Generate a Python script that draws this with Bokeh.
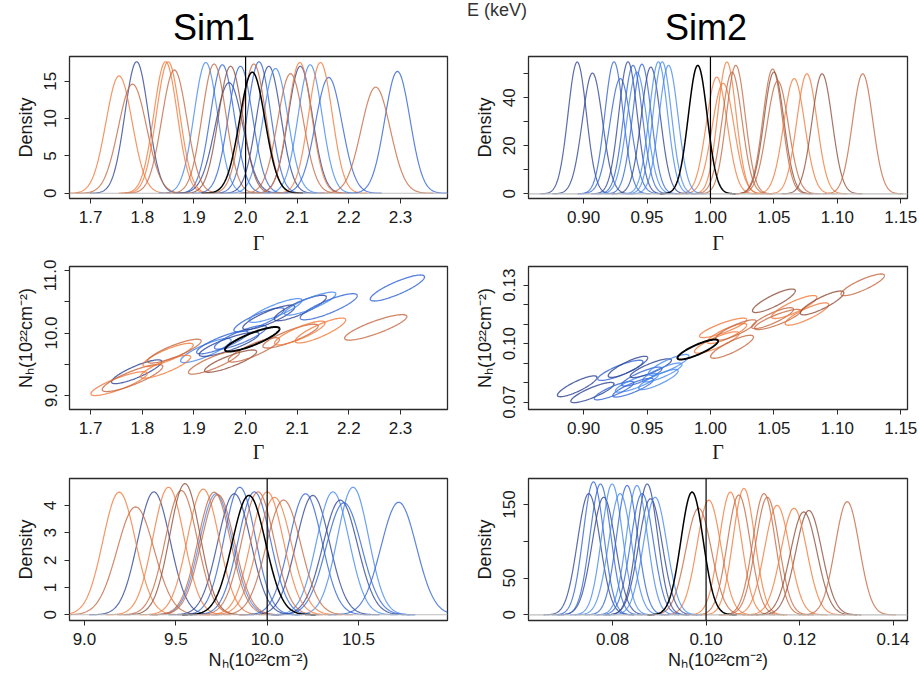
import numpy as np
from bokeh.plotting import figure
from bokeh.layouts import column, row
from bokeh.models import Span, Title, Div, FixedTicker, PrintfTickFormatter, Range1d, ColumnDataSource
from bokeh.embed import file_html
from bokeh.resources import INLINE

# ---------------- data ----------------
# group codes: O bright orange, B brown-orange, D dark brown,
#              L light blue, M medium blue, N navy, K truth (black)
sim1_group = ["O", "B", "O", "O", "B", "B", "D", "B", "B", "O", "O", "B",
              "N", "L", "M", "N", "M", "M", "N", "L", "N", "L", "M", "M", "K"]
sim1_gamma = [1.755, 1.781, 1.845, 1.850, 1.862, 1.939, 1.971, 2.016, 2.087, 2.105, 2.145, 2.252,
              1.789, 1.923, 1.955, 1.968, 1.990, 2.026, 2.045, 2.058, 2.106, 2.125, 2.161, 2.294, 2.013]
sim1_gamma_peak = [15.7, 14.6, 17.6, 17.6, 16.5, 17.3, 17.0, 17.3, 16.0, 17.5, 17.5, 14.2,
                   17.6, 17.5, 17.2, 14.8, 17.0, 17.6, 17.0, 16.7, 17.0, 17.2, 15.5, 16.3, 16.2]
sim1_nh = [9.19, 9.28, 9.46, 9.65, 9.71, 9.53, 9.55, 9.73, 9.95, 10.00, 10.04, 10.09,
           9.38, 9.72, 9.85, 9.82, 9.93, 10.21, 10.25, 10.36, 10.40, 10.47, 10.42, 10.72, 9.90]
sim1_nh_peak = [4.49, 3.95, 4.67, 4.60, 4.49, 4.55, 4.80, 4.40, 4.50, 4.50, 4.30, 4.20,
                4.50, 4.43, 4.67, 4.43, 4.50, 4.43, 4.37, 4.50, 4.20, 4.67, 4.10, 4.12, 4.37]

sim2_group = ["O", "O", "O", "B", "B", "B", "D", "B", "O", "O", "D", "B",
              "N", "N", "M", "M", "N", "M", "L", "M", "N", "L", "L", "L", "K"]
sim2_gamma = [1.005, 1.010, 1.013, 1.017, 1.020, 1.049, 1.050, 1.053, 1.066, 1.076, 1.088, 1.120,
              0.895, 0.907, 0.924, 0.929, 0.935, 0.939, 0.942, 0.946, 0.953, 0.959, 0.962, 0.967, 0.990]
sim2_gamma_peak = [48.6, 46.0, 54.9, 50.7, 53.5, 52.0, 50.7, 47.0, 48.0, 50.0, 50.0, 50.0,
                   54.9, 50.3, 55.0, 48.0, 55.0, 53.5, 50.7, 54.0, 52.8, 55.0, 55.0, 53.5, 53.5]
sim2_nh = [0.1006, 0.1081, 0.1052, 0.0984, 0.1070, 0.1131, 0.1220, 0.1124, 0.1188, 0.1152, 0.1209, 0.1302,
           0.0781, 0.0749, 0.0759, 0.0863, 0.0881, 0.0774, 0.0799, 0.0831, 0.0874, 0.0816, 0.0852, 0.0891, 0.0970]
sim2_nh_peak = [156, 172, 167, 145, 163, 160, 142, 165, 145, 149, 140, 154,
                160, 165, 181, 165, 158, 178, 178, 176, 178, 165, 176, 160, 167]

sim1_rho = 0.85
sim2_rho = 0.85
contour_level = 2.146   # 90% region of the posterior

sim1_true = (2.0, 10.0)
sim2_true = (1.0, 0.10)

# axis ticks
s1_gamma_ticks = [1.7, 1.8, 1.9, 2.0, 2.1, 2.2, 2.3]
s1_dens_ticks = [0, 5, 10, 15]
s1_nh_ticks_mid = [9.0, 9.5, 10.0, 10.5, 11.0]
s1_nh_ticks = [9.0, 9.5, 10.0, 10.5]
s1_nhdens_ticks = [0, 1, 2, 3, 4]
s2_gamma_ticks = [0.90, 0.95, 1.00, 1.05, 1.10, 1.15]
s2_dens_ticks = [0, 10, 20, 30, 40, 50]
s2_nh_ticks_mid = [0.07, 0.08, 0.09, 0.10, 0.11, 0.12, 0.13]
s2_nh_ticks = [0.08, 0.10, 0.12, 0.14]
s2_nhdens_ticks = [0, 50, 100, 150]

# ---------------- styling ----------------
PALETTE = {"O": "#F2783A", "B": "#C4663F", "D": "#8E4B38",
           "L": "#4287F0", "M": "#2E62D4", "N": "#2B4294", "K": "#000000"}
FONT = "Liberation Sans"
SERIF = "Liberation Serif"
NH_LABEL = "N\u2095(10\u00b2\u00b2cm\u207b\u00b2)"
S2P = np.sqrt(2 * np.pi)


def draw_order(groups):
    orange = [i for i, g in enumerate(groups) if g in "OBD"]
    blue = [i for i, g in enumerate(groups) if g in "LMN"]
    order = []
    for k in range(max(len(orange), len(blue))):
        if k < len(blue):
            order.append(blue[k])
        if k < len(orange):
            order.append(orange[k])
    order += [i for i, g in enumerate(groups) if g == "K"]
    return order


def density_source(groups, means, peaks):
    xs, ys, cols, alphas, widths = [], [], [], [], []
    for i in draw_order(groups):
        sd = 1.0 / (peaks[i] * S2P)
        x = np.linspace(means[i] - 4 * sd, means[i] + 4 * sd, 161)
        y = peaks[i] * np.exp(-0.5 * ((x - means[i]) / sd) ** 2)
        xs.append(x.tolist()); ys.append(y.tolist())
        cols.append(PALETTE[groups[i]])
        alphas.append(1.0 if groups[i] == "K" else 0.78)
        widths.append(1.5 if groups[i] == "K" else 1.2)
    return ColumnDataSource(dict(xs=xs, ys=ys, c=cols, a=alphas, w=widths))


def ellipse_source(groups, gm, gp, nm, npk, rho):
    t = np.linspace(0, 2 * np.pi, 121)
    xs, ys, cols, alphas, widths = [], [], [], [], []
    for i in draw_order(groups):
        sx = 1.0 / (gp[i] * S2P)
        sy = 1.0 / (npk[i] * S2P)
        x = gm[i] + contour_level * sx * np.cos(t)
        y = nm[i] + contour_level * sy * (rho * np.cos(t) + np.sqrt(1 - rho ** 2) * np.sin(t))
        xs.append(x.tolist()); ys.append(y.tolist())
        cols.append(PALETTE[groups[i]])
        alphas.append(1.0 if groups[i] == "K" else 0.8)
        widths.append(2.0 if groups[i] == "K" else 1.3)
    return ColumnDataSource(dict(xs=xs, ys=ys, c=cols, a=alphas, w=widths))


def panel(xr, yr, fw, fh, bl, br, bt, bb):
    p = figure(x_range=Range1d(*xr), y_range=Range1d(*yr), frame_width=fw, frame_height=fh,
               min_border_left=bl, min_border_right=br, min_border_top=bt, min_border_bottom=bb,
               output_backend="svg", toolbar_location=None, tools="")
    p.xgrid.visible = False
    p.ygrid.visible = False
    p.outline_line_color = "#2b2b2b"
    p.outline_line_width = 1.3
    p.outline_line_alpha = 1.0
    for ax in (p.xaxis[0], p.yaxis[0]):
        ax.axis_line_color = "#2b2b2b"
        ax.major_tick_line_color = "#2b2b2b"
        ax.major_tick_in = 0
        ax.major_tick_out = 5
        ax.minor_tick_line_color = None
        ax.major_label_text_font = FONT
        ax.major_label_text_font_size = "17px"
        ax.major_label_text_color = "#1a1a1a"
        ax.axis_label_text_font = FONT
        ax.axis_label_text_font_size = "18px"
        ax.axis_label_text_font_style = "normal"
        ax.axis_label_text_color = "#1a1a1a"
    p.xaxis.major_label_standoff = 7
    p.yaxis.major_label_standoff = 8
    p.yaxis.axis_label_standoff = 6
    p.yaxis.major_label_orientation = "vertical"
    return p


def set_axis(ax, ticks, fmt, hide=()):
    ax.ticker = FixedTicker(ticks=list(ticks))
    ax.formatter = PrintfTickFormatter(format=fmt)
    ax.bounds = (min(ticks), max(ticks))
    if hide:
        ax.major_label_overrides = {h: "" for h in hide}


def under_title(p, text, standoff, serif=False, size="20px"):
    p.add_layout(Title(text=text, align="center", standoff=standoff,
                       text_font=SERIF if serif else FONT, text_font_size=size,
                       text_font_style="normal", text_color="#1a1a1a"), "below")


# ---------------- geometry ----------------
LW, RW = 378, 379
LBL, LBR = 69, 8
RBL, RBR = 73, 10
H1, H2, H3 = 142, 143, 142
HEAD = 52

# ranges of the plot boxes
s1_g_range = (1.659, 2.391)
s1_d_range = (-0.70, 18.3)
s1_nmid_range = (8.776, 11.064)
s1_n_range = (8.918, 10.987)
s1_nd_range = (-0.21, 4.99)
s2_g_range = (0.8566, 1.1553)
s2_d_range = (-1.96, 57.2)
s2_nmid_range = (0.0662, 0.1396)
s2_n_range = (0.062, 0.1431)
s2_nd_range = (-7.7, 185.5)

# ---------------- row 1: Gamma densities ----------------
p11 = panel(s1_g_range, s1_d_range, LW, H1, LBL, LBR, 4, 61)
p12 = panel(s2_g_range, s2_d_range, RW, H1, RBL, RBR, 4, 61)
set_axis(p11.xaxis[0], s1_gamma_ticks, "%.1f")
set_axis(p11.yaxis[0], s1_dens_ticks, "%d")
set_axis(p12.xaxis[0], s2_gamma_ticks, "%.2f")
set_axis(p12.yaxis[0], s2_dens_ticks, "%d", hide=(10, 30, 50))
p11.yaxis.axis_label = "Density"
p12.yaxis.axis_label = "Density"

# ---------------- row 2: ellipses ----------------
p21 = panel(s1_g_range, s1_nmid_range, LW, H2, LBL, LBR, 7, 58)
p22 = panel(s2_g_range, s2_nmid_range, RW, H2, RBL, RBR, 7, 58)
set_axis(p21.xaxis[0], s1_gamma_ticks, "%.1f")
set_axis(p21.yaxis[0], s1_nh_ticks_mid, "%.1f", hide=(9.5, 10.5))
set_axis(p22.xaxis[0], s2_gamma_ticks, "%.2f")
set_axis(p22.yaxis[0], s2_nh_ticks_mid, "%.2f", hide=(0.08, 0.09, 0.11, 0.12))
p21.yaxis.axis_label = NH_LABEL
p22.yaxis.axis_label = NH_LABEL

# ---------------- row 3: NH densities ----------------
p31 = panel(s1_n_range, s1_nd_range, LW, H3, LBL, LBR, 11, 53)
p32 = panel(s2_n_range, s2_nd_range, RW, H3, RBL, RBR, 11, 53)
set_axis(p31.xaxis[0], s1_nh_ticks, "%.1f")
set_axis(p31.yaxis[0], s1_nhdens_ticks, "%d")
set_axis(p32.xaxis[0], s2_nh_ticks, "%.2f")
set_axis(p32.yaxis[0], s2_nhdens_ticks, "%d", hide=(100,))
p31.yaxis.axis_label = "Density"
p32.yaxis.axis_label = "Density"

# zero lines and truth lines
for p in (p11, p12, p31, p32):
    p.add_layout(Span(location=0, dimension="width", line_color="#BEBEBE", line_width=1.2))
p11.add_layout(Span(location=sim1_true[0], dimension="height", line_color="black", line_width=1.2))
p12.add_layout(Span(location=sim2_true[0], dimension="height", line_color="black", line_width=1.2))
p31.add_layout(Span(location=sim1_true[1], dimension="height", line_color="black", line_width=1.2))
p32.add_layout(Span(location=sim2_true[1], dimension="height", line_color="black", line_width=1.2))

# curves
for p, src in ((p11, density_source(sim1_group, sim1_gamma, sim1_gamma_peak)),
               (p12, density_source(sim2_group, sim2_gamma, sim2_gamma_peak)),
               (p31, density_source(sim1_group, sim1_nh, sim1_nh_peak)),
               (p32, density_source(sim2_group, sim2_nh, sim2_nh_peak)),
               (p21, ellipse_source(sim1_group, sim1_gamma, sim1_gamma_peak, sim1_nh, sim1_nh_peak, sim1_rho)),
               (p22, ellipse_source(sim2_group, sim2_gamma, sim2_gamma_peak, sim2_nh, sim2_nh_peak, sim2_rho))):
    p.multi_line(xs="xs", ys="ys", line_color="c", line_alpha="a", line_width="w", source=src)

# axis titles under the panels
under_title(p11, "\u0393", 8, serif=True)
under_title(p12, "\u0393", 8, serif=True)
under_title(p21, "\u0393", 5, serif=True)
under_title(p22, "\u0393", 5, serif=True)
under_title(p31, NH_LABEL, 0, size="18px")
under_title(p32, NH_LABEL, 0, size="18px")

# column headings
span = "position:absolute;white-space:nowrap;font-family:'Liberation Sans',Arial,sans-serif;"
head_html = (
    f"<div style='position:relative;width:{LBL + LW + LBR + RBL + RW + RBR}px;height:{HEAD}px;'>"
    f"<span style=\"{span}left:214px;top:10px;font-size:36px;line-height:36px;transform:translateX(-50%);color:#000;\">Sim1</span>"
    f"<span style=\"{span}left:706px;top:10px;font-size:36px;line-height:36px;transform:translateX(-50%);color:#000;\">Sim2</span>"
    f"<span style=\"{span}left:467px;top:1px;font-size:18px;line-height:18px;color:#333;\">E (keV)</span>"
    "</div>"
)
header = Div(text=head_html, width=LBL + LW + LBR + RBL + RW + RBR, height=HEAD, margin=0)

layout = column(header, row(p11, p12), row(p21, p22), row(p31, p32))
open("out.html", "w").write(file_html(layout, INLINE))
